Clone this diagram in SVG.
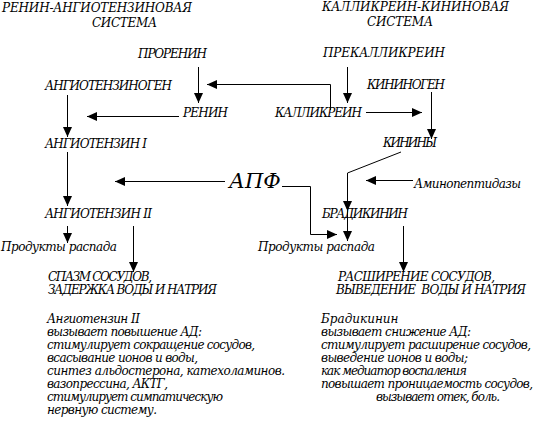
<svg xmlns="http://www.w3.org/2000/svg" width="537" height="443" viewBox="0 0 537 443">
<style>
.ln{fill:none;stroke:#000;stroke-width:1}
.t{font-family:"DejaVu Serif","Liberation Serif",serif;font-style:italic;font-size:12px;fill:#000}
</style>
<defs>
<marker id="ah" markerUnits="userSpaceOnUse" markerWidth="10" markerHeight="10" refX="10" refY="5" orient="auto" viewBox="0 0 10 10">
<path d="M0,0.5 L10,5 L0,9.5 z" fill="#000"/>
</marker>
</defs>
<rect width="537" height="443" fill="#fff"/>
<g class="t">
<g id="titles">
<text x="2" y="12" textLength="190" lengthAdjust="spacing">РЕНИН-АНГИОТЕНЗИНОВАЯ</text>
<text x="92" y="27" textLength="65" lengthAdjust="spacing">СИСТЕМА</text>
<text x="322" y="11" textLength="187" lengthAdjust="spacing">КАЛЛИКРЕИН-КИНИНОВАЯ</text>
<text x="367" y="26" textLength="66" lengthAdjust="spacing">СИСТЕМА</text>
</g>
<g id="prorenin"><text x="138" y="58" textLength="69" lengthAdjust="spacing">ПРОРЕНИН</text></g>
<g id="angiotensinogen"><text x="45" y="90" textLength="127" lengthAdjust="spacing">АНГИОТЕНЗИНОГЕН</text></g>
<g id="renin"><text x="183" y="117" textLength="45" lengthAdjust="spacing">РЕНИН</text></g>
<g id="angiotensin1"><text x="45" y="148" textLength="102" lengthAdjust="spacing">АНГИОТЕНЗИН I</text></g>
<g id="apf"><text x="229" y="188" font-size="21">АПФ</text></g>
<g id="angiotensin2"><text x="45" y="218" textLength="107" lengthAdjust="spacing">АНГИОТЕНЗИН II</text></g>
<g id="products-left"><text x="1" y="251" textLength="116" lengthAdjust="spacing">Продукты распада</text></g>
<g id="prekallikrein"><text x="323" y="57" textLength="122" lengthAdjust="spacing">ПРЕКАЛЛИКРЕИН</text></g>
<g id="kininogen"><text x="367" y="89" textLength="78" lengthAdjust="spacing">КИНИНОГЕН</text></g>
<g id="kallikrein"><text x="275" y="117" textLength="87" lengthAdjust="spacing">КАЛЛИКРЕИН</text></g>
<g id="kininy"><text x="383" y="147" textLength="54" lengthAdjust="spacing">КИНИНЫ</text></g>
<g id="aminopeptidases"><text x="414" y="188" textLength="107" lengthAdjust="spacing">Аминопептидазы</text></g>
<g id="bradykinin"><text x="322" y="218" textLength="86" lengthAdjust="spacing">БРАДИКИНИН</text></g>
<g id="products-right"><text x="258" y="251" textLength="117" lengthAdjust="spacing">Продукты распада</text></g>
<g id="spasm">
<text x="48" y="281" textLength="104" lengthAdjust="spacing">СПАЗМ СОСУДОВ,</text>
<text x="48" y="294" textLength="169" lengthAdjust="spacing">ЗАДЕРЖКА ВОДЫ И НАТРИЯ</text>
</g>
<g id="dilation">
<text x="338" y="281" textLength="157" lengthAdjust="spacing">РАСШИРЕНИЕ СОСУДОВ,</text>
<text x="336" y="294" textLength="190" lengthAdjust="spacing" xml:space="preserve">ВЫВЕДЕНИЕ  ВОДЫ И НАТРИЯ</text>
</g>
<g id="text-left">
<text x="47" y="323" textLength="93" lengthAdjust="spacing">Ангиотензин II</text>
<text x="47" y="336" textLength="155" lengthAdjust="spacing">вызывает повышение АД:</text>
<text x="47" y="349" textLength="208" lengthAdjust="spacing">стимулирует сокращение сосудов,</text>
<text x="47" y="362" textLength="151" lengthAdjust="spacing">всасывание ионов и воды,</text>
<text x="47" y="375" textLength="238" lengthAdjust="spacing">синтез альдостерона, катехоламинов.</text>
<text x="47" y="388" textLength="121" lengthAdjust="spacing">вазопрессина, АКТГ,</text>
<text x="47" y="401" textLength="176" lengthAdjust="spacing">стимулирует симпатическую</text>
<text x="47" y="414" textLength="110" lengthAdjust="spacing">нервную систему.</text>
</g>
<g id="text-right">
<text x="321" y="323">Брадикинин</text>
<text x="321" y="336" textLength="150" lengthAdjust="spacing">вызывает снижение АД:</text>
<text x="321" y="349" textLength="210" lengthAdjust="spacing">стимулирует расширение сосудов,</text>
<text x="321" y="362" textLength="147" lengthAdjust="spacing">выведение ионов и воды;</text>
<text x="321" y="375" textLength="146" lengthAdjust="spacing">как медиатор воспаления</text>
<text x="321" y="388" textLength="212" lengthAdjust="spacing">повышает проницаемость сосудов,</text>
<text x="376" y="401" textLength="124" lengthAdjust="spacing">вызывает отек, боль.</text>
</g>
</g>
<g id="connectors">
<path class="ln" d="M198.5,67 V103" marker-end="url(#ah)"/>
<path class="ln" d="M330.5,110 V84.5 H207" marker-end="url(#ah)"/>
<path class="ln" d="M347.5,67 V103" marker-end="url(#ah)"/>
<path class="ln" d="M67.5,95 V137" marker-end="url(#ah)"/>
<path class="ln" d="M179,116.5 H87" marker-end="url(#ah)"/>
<path class="ln" d="M67.5,152 V206" marker-end="url(#ah)"/>
<path class="ln" d="M225,181.5 H115" marker-end="url(#ah)"/>
<path class="ln" d="M67.5,226 V243" marker-end="url(#ah)"/>
<path class="ln" d="M133.5,226 V272" marker-end="url(#ah)"/>
<path class="ln" d="M366,112.5 H422" marker-end="url(#ah)"/>
<path class="ln" d="M431.5,92 V139" marker-end="url(#ah)"/>
<path class="ln" d="M401,152 L347.5,173 V211" marker-end="url(#ah)"/>
<path class="ln" d="M347.5,211 V241" marker-end="url(#ah)"/>
<path class="ln" d="M413,180.5 H366" marker-end="url(#ah)"/>
<path class="ln" d="M282,186.5 H310.5 V234.5 H337" marker-end="url(#ah)"/>
<path class="ln" d="M403.5,226 V272" marker-end="url(#ah)"/>
</g>
</svg>
